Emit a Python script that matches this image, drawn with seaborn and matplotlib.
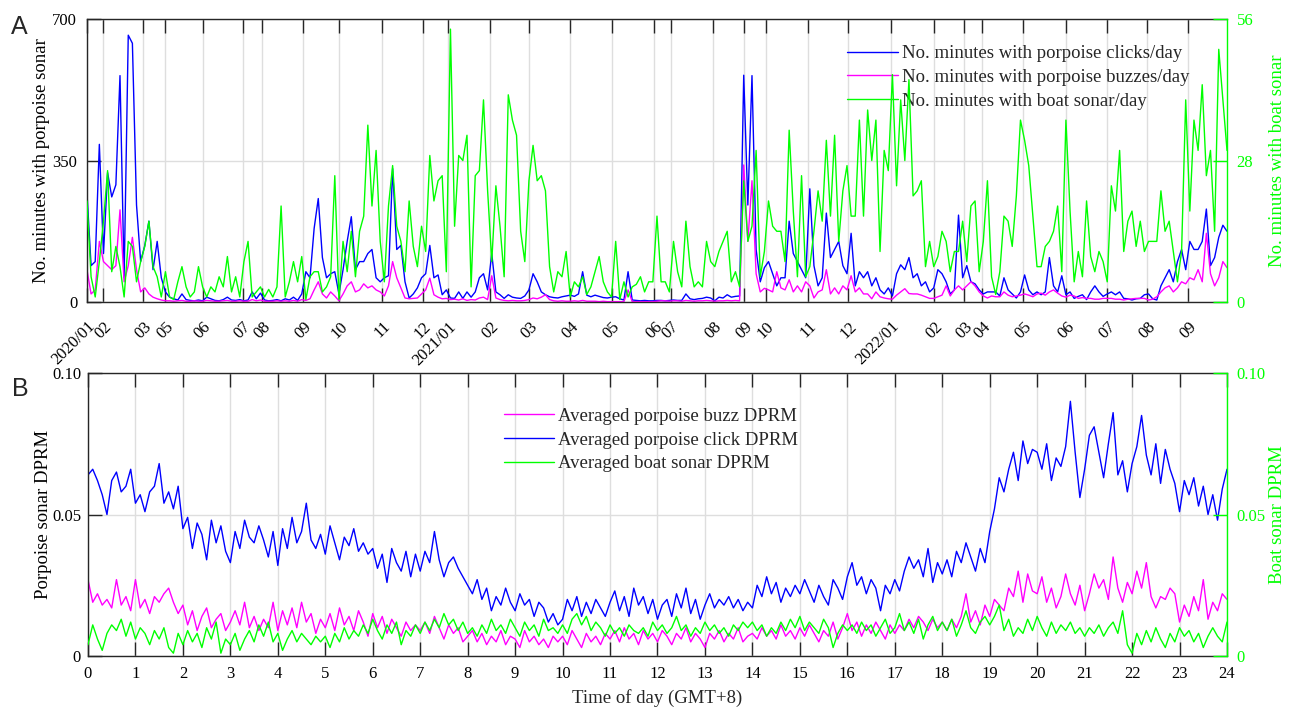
import numpy as np
import matplotlib
matplotlib.use("Agg")
import matplotlib.pyplot as plt
import matplotlib.transforms as mtransforms
from matplotlib.lines import Line2D
import seaborn as sns

# ============ Data: panel A (one sample every 3 recorded days) ============
DAY_STEP = 3
clicks_day = [
    270, 90, 100, 390, 120, 320, 260, 290, 560, 60,
    660, 640, 240, 100, 140, 200, 80, 150, 60, 25,
    12, 8, 5, 20, 6, 4, 3, 5, 3, 12,
    8, 4, 3, 6, 12, 5, 4, 6, 3, 5,
    25, 8, 22, 5, 3, 4, 6, 3, 8, 5,
    12, 4, 20, 75, 60, 182, 256, 110, 60, 70,
    75, 20, 80, 150, 211, 80, 100, 100, 120, 130,
    60, 50, 60, 65, 330, 130, 140, 50, 10, 20,
    35, 60, 70, 140, 60, 67, 18, 30, 10, 9,
    25, 9, 25, 12, 25, 60, 70, 30, 120, 25,
    18, 9, 18, 12, 10, 9, 15, 30, 70, 50,
    25, 18, 13, 11, 10, 13, 15, 17, 14, 20,
    75, 17, 13, 17, 14, 11, 10, 12, 13, 8,
    5, 75, 5, 4, 3, 4, 3, 3, 4, 4,
    3, 4, 5, 4, 4, 20, 8, 6, 8, 9,
    12, 10, 3, 12, 10, 18, 12, 14, 15, 561,
    240, 560, 130, 50, 85, 100, 70, 40, 60, 60,
    200, 120, 100, 80, 60, 280, 90, 40, 60, 220,
    110, 130, 150, 90, 70, 170, 40, 75, 60, 75,
    40, 60, 30, 20, 35, 15, 70, 92, 80, 110,
    60, 70, 40, 50, 25, 35, 80, 70, 50, 20,
    30, 215, 60, 90, 50, 45, 30, 20, 25, 25,
    25, 15, 60, 30, 20, 10, 25, 67, 30, 18,
    25, 18, 25, 110, 40, 25, 65, 18, 25, 9,
    14, 18, 6, 25, 40, 25, 14, 20, 25, 18,
    25, 9, 8, 5, 8, 9, 18, 20, 8, 5,
    40, 60, 80, 50, 100, 130, 80, 150, 130, 130,
    150, 230, 90, 110, 160, 190, 175,
]
buzzes_day = [
    80, 20, 30, 150, 100, 90, 80, 90, 228, 50,
    90, 160, 80, 25, 35, 20, 12, 8, 5, 3,
    3, 2, 3, 4, 2, 2, 3, 2, 2, 4,
    3, 2, 2, 3, 4, 2, 2, 3, 2, 2,
    6, 3, 5, 2, 2, 2, 3, 2, 3, 2,
    4, 2, 6, 4, 8, 30, 50, 20, 10, 25,
    15, 3, 20, 40, 50, 25, 30, 45, 35, 40,
    30, 25, 15, 40, 100, 60, 35, 10, 8, 9,
    10, 20, 30, 59, 18, 12, 8, 9, 6, 7,
    5, 8, 4, 6, 5, 10, 12, 6, 65, 10,
    6, 4, 3, 4, 3, 3, 4, 6, 10, 8,
    12, 18, 6, 3, 2, 3, 2, 2, 3, 2,
    4, 2, 2, 2, 1, 2, 1, 1, 1, 1,
    1, 30, 1, 1, 1, 1, 1, 1, 2, 3,
    3, 2, 3, 3, 2, 4, 3, 2, 3, 3,
    4, 3, 2, 3, 3, 4, 3, 4, 3, 339,
    150, 300, 70, 25, 34, 30, 25, 75, 35, 30,
    55, 25, 40, 25, 50, 40, 10, 25, 30, 80,
    20, 35, 20, 40, 30, 65, 25, 35, 20, 20,
    8, 25, 13, 10, 8, 7, 17, 25, 33, 21,
    20, 20, 17, 13, 9, 9, 13, 17, 40, 15,
    30, 40, 30, 40, 50, 40, 25, 15, 10, 15,
    13, 13, 25, 17, 13, 15, 17, 20, 17, 13,
    20, 22, 17, 25, 30, 22, 15, 12, 17, 15,
    9, 11, 9, 9, 7, 7, 9, 9, 9, 7,
    7, 5, 7, 8, 9, 9, 9, 5, 7, 13,
    25, 35, 40, 25, 35, 50, 45, 60, 55, 80,
    50, 170, 70, 40, 60, 100, 85,
]
boat_day = [
    20, 5, 1, 8, 16, 26, 6, 11, 7, 1,
    12, 11, 4, 8, 11, 16, 7, 5, 1, 6,
    1, 0.5, 4, 7, 3, 1, 2, 7, 3, 1,
    3, 2, 5, 3, 9, 2, 5, 1, 8, 12,
    1, 2, 3, 1, 2.5, 1, 3, 19, 1, 4,
    8, 4, 9, 0.5, 5, 6, 6, 2, 3, 5,
    25, 0.5, 12, 6, 14, 5, 14, 17, 35, 19,
    30, 12, 4, 19, 27, 15, 12, 6, 20, 11,
    7, 15, 10, 29, 20, 24, 25, 6, 54, 15,
    29, 28, 33, 3, 25, 26, 40, 22, 8, 23,
    15, 5, 41, 36, 33, 14, 8, 24, 31, 24,
    25, 22, 7, 2, 6, 5, 10, 1, 4, 3,
    5, 1.5, 3, 6, 9, 4, 2, 1, 12, 0.5,
    4, 1, 3, 3.5, 5, 2, 4, 4, 17, 4,
    4, 2, 12, 6, 3, 16, 7, 3, 4, 3,
    12, 8, 7, 10, 12, 14, 4, 6, 3, 24,
    12, 15, 30, 5, 10, 20, 15, 14, 14, 8,
    34, 18, 5, 25, 5, 7, 14, 22, 16, 32,
    17, 33, 12, 22, 27, 17, 17, 36, 17, 38,
    28, 36, 10, 30, 26, 45, 23, 40, 28, 44,
    21, 22, 24, 7, 12, 7, 9, 14, 12, 6,
    10, 10, 16, 8, 19, 20, 6, 12, 24, 5,
    1.5, 6, 17, 16, 11, 21, 36, 32, 27, 17,
    7, 7, 11, 12, 14, 19, 6, 36, 18, 4,
    10, 5, 20, 9, 6, 10, 8, 4, 23, 18,
    30, 10, 16, 18, 11, 16, 10, 12, 12, 12,
    22, 14, 16, 10, 4, 10, 40, 18, 36, 30,
    43, 25, 30, 14, 50, 40, 30,
]
# month ticks, as recorded-day index (gaps in the record squeeze the axis)
month_pos = [0, 12, 41, 57, 84, 113, 127, 157, 183, 214, 244, 262, 293, 321, 351, 381,
             412, 424, 455, 477, 493, 524, 553, 584, 615, 637, 650, 680, 711, 741, 770, 800]
month_lbl = ["2020/01", "02", "03", "05", "06", "07", "08", "09", "10", "11", "12",
             "2021/01", "02", "03", "04", "05", "06", "07", "08", "09", "10", "11", "12",
             "2022/01", "02", "03", "04", "05", "06", "07", "08", "09"]

# ============ Data: panel B (one sample every 0.1 h) ============
click_dprm = [
    0.064, 0.066, 0.062, 0.057, 0.050, 0.062, 0.065, 0.058, 0.060, 0.066,
    0.054, 0.057, 0.051, 0.058, 0.060, 0.068, 0.054, 0.058, 0.052, 0.060,
    0.045, 0.049, 0.038, 0.047, 0.043, 0.034, 0.048, 0.040, 0.046, 0.037,
    0.033, 0.044, 0.038, 0.048, 0.042, 0.040, 0.046, 0.041, 0.035, 0.044,
    0.032, 0.045, 0.038, 0.049, 0.040, 0.044, 0.054, 0.041, 0.038, 0.043,
    0.036, 0.046, 0.040, 0.034, 0.042, 0.039, 0.045, 0.037, 0.040, 0.036,
    0.038, 0.031, 0.036, 0.026, 0.038, 0.033, 0.030, 0.037, 0.028, 0.036,
    0.030, 0.037, 0.033, 0.044, 0.034, 0.028, 0.033, 0.035, 0.031, 0.028,
    0.025, 0.022, 0.027, 0.020, 0.024, 0.016, 0.021, 0.018, 0.024, 0.019,
    0.016, 0.022, 0.018, 0.020, 0.014, 0.019, 0.017, 0.012, 0.015, 0.011,
    0.013, 0.020, 0.016, 0.021, 0.014, 0.019, 0.015, 0.020, 0.017, 0.014,
    0.019, 0.023, 0.016, 0.021, 0.014, 0.024, 0.018, 0.021, 0.015, 0.020,
    0.013, 0.018, 0.020, 0.014, 0.022, 0.017, 0.024, 0.015, 0.020, 0.013,
    0.018, 0.022, 0.017, 0.020, 0.018, 0.021, 0.017, 0.020, 0.016, 0.019,
    0.017, 0.025, 0.021, 0.028, 0.022, 0.026, 0.019, 0.024, 0.021, 0.025,
    0.022, 0.027, 0.023, 0.019, 0.025, 0.021, 0.018, 0.027, 0.024, 0.020,
    0.028, 0.033, 0.025, 0.028, 0.022, 0.027, 0.024, 0.016, 0.025, 0.022,
    0.027, 0.023, 0.030, 0.035, 0.031, 0.034, 0.028, 0.038, 0.026, 0.033,
    0.029, 0.034, 0.028, 0.037, 0.033, 0.040, 0.035, 0.030, 0.038, 0.033,
    0.044, 0.052, 0.063, 0.058, 0.066, 0.072, 0.062, 0.076, 0.068, 0.073,
    0.072, 0.066, 0.075, 0.062, 0.070, 0.067, 0.074, 0.090, 0.072, 0.056,
    0.066, 0.078, 0.081, 0.072, 0.063, 0.075, 0.086, 0.064, 0.069, 0.058,
    0.068, 0.074, 0.085, 0.071, 0.064, 0.075, 0.061, 0.073, 0.066, 0.061,
    0.051, 0.062, 0.057, 0.063, 0.053, 0.060, 0.050, 0.057, 0.048, 0.059,
    0.066,
]
buzz_dprm = [
    0.027, 0.019, 0.022, 0.018, 0.020, 0.017, 0.027, 0.018, 0.021, 0.016,
    0.027, 0.017, 0.020, 0.015, 0.021, 0.019, 0.022, 0.024, 0.019, 0.015,
    0.018, 0.011, 0.016, 0.009, 0.014, 0.017, 0.010, 0.013, 0.015, 0.009,
    0.012, 0.016, 0.011, 0.019, 0.010, 0.014, 0.009, 0.013, 0.010, 0.019,
    0.009, 0.016, 0.011, 0.017, 0.010, 0.019, 0.012, 0.015, 0.008, 0.013,
    0.010, 0.015, 0.009, 0.017, 0.011, 0.014, 0.009, 0.016, 0.012, 0.007,
    0.015, 0.010, 0.014, 0.008, 0.013, 0.010, 0.007, 0.012, 0.009, 0.011,
    0.009, 0.012, 0.008, 0.014, 0.010, 0.006, 0.011, 0.008, 0.010, 0.005,
    0.007, 0.009, 0.005, 0.008, 0.004, 0.007, 0.005, 0.009, 0.004, 0.007,
    0.006, 0.003, 0.009, 0.005, 0.007, 0.004, 0.006, 0.003, 0.007, 0.005,
    0.007, 0.004, 0.009, 0.006, 0.003, 0.008, 0.005, 0.007, 0.004, 0.008,
    0.006, 0.009, 0.005, 0.010, 0.006, 0.008, 0.004, 0.009, 0.006, 0.008,
    0.005, 0.009, 0.007, 0.004, 0.008, 0.006, 0.010, 0.005, 0.008, 0.006,
    0.003, 0.008, 0.006, 0.009, 0.005, 0.008, 0.006, 0.010, 0.005, 0.007,
    0.008, 0.006, 0.010, 0.007, 0.009, 0.006, 0.011, 0.007, 0.009, 0.006,
    0.010, 0.007, 0.011, 0.008, 0.005, 0.009, 0.007, 0.012, 0.006, 0.010,
    0.015, 0.009, 0.012, 0.007, 0.011, 0.008, 0.012, 0.009, 0.006, 0.011,
    0.008, 0.011, 0.009, 0.013, 0.010, 0.014, 0.012, 0.009, 0.013, 0.010,
    0.012, 0.009, 0.013, 0.010, 0.014, 0.022, 0.012, 0.016, 0.011, 0.018,
    0.014, 0.020, 0.018, 0.016, 0.024, 0.021, 0.030, 0.019, 0.029, 0.023,
    0.022, 0.028, 0.019, 0.024, 0.017, 0.021, 0.029, 0.022, 0.018, 0.025,
    0.016, 0.022, 0.029, 0.024, 0.027, 0.020, 0.035, 0.024, 0.019, 0.026,
    0.022, 0.030, 0.024, 0.033, 0.021, 0.017, 0.021, 0.020, 0.024, 0.022,
    0.012, 0.018, 0.014, 0.021, 0.016, 0.027, 0.013, 0.019, 0.016, 0.022,
    0.020,
]
boat_dprm = [
    0.004, 0.011, 0.006, 0.002, 0.008, 0.011, 0.009, 0.013, 0.007, 0.012,
    0.006, 0.010, 0.008, 0.004, 0.009, 0.006, 0.010, 0.003, 0.001, 0.008,
    0.004, 0.009, 0.005, 0.008, 0.003, 0.010, 0.006, 0.012, 0.001, 0.006,
    0.004, 0.008, 0.002, 0.006, 0.009, 0.005, 0.011, 0.007, 0.012, 0.005,
    0.008, 0.002, 0.006, 0.009, 0.005, 0.008, 0.006, 0.004, 0.007, 0.005,
    0.007, 0.003, 0.008, 0.005, 0.010, 0.006, 0.009, 0.007, 0.011, 0.008,
    0.013, 0.009, 0.006, 0.011, 0.008, 0.012, 0.004, 0.009, 0.007, 0.011,
    0.008, 0.012, 0.009, 0.013, 0.010, 0.015, 0.011, 0.013, 0.009, 0.012,
    0.008, 0.010, 0.007, 0.011, 0.008, 0.013, 0.009, 0.011, 0.008, 0.013,
    0.010, 0.007, 0.012, 0.009, 0.011, 0.007, 0.013, 0.009, 0.010, 0.008,
    0.011, 0.008, 0.013, 0.015, 0.011, 0.014, 0.009, 0.012, 0.010, 0.007,
    0.011, 0.008, 0.010, 0.007, 0.011, 0.009, 0.008, 0.010, 0.007, 0.012,
    0.009, 0.011, 0.008, 0.010, 0.014, 0.009, 0.011, 0.007, 0.010, 0.008,
    0.012, 0.009, 0.011, 0.008, 0.010, 0.007, 0.011, 0.009, 0.012, 0.010,
    0.012, 0.009, 0.011, 0.007, 0.010, 0.008, 0.012, 0.009, 0.013, 0.010,
    0.014, 0.009, 0.012, 0.010, 0.008, 0.013, 0.010, 0.003, 0.008, 0.011,
    0.009, 0.011, 0.008, 0.012, 0.009, 0.011, 0.007, 0.010, 0.013, 0.008,
    0.010, 0.015, 0.009, 0.012, 0.008, 0.013, 0.006, 0.011, 0.014, 0.009,
    0.012, 0.009, 0.013, 0.007, 0.011, 0.016, 0.010, 0.008, 0.012, 0.014,
    0.011, 0.014, 0.018, 0.009, 0.013, 0.007, 0.010, 0.008, 0.013, 0.009,
    0.014, 0.010, 0.007, 0.012, 0.008, 0.011, 0.009, 0.012, 0.008, 0.010,
    0.007, 0.010, 0.008, 0.011, 0.007, 0.010, 0.012, 0.008, 0.016, 0.004,
    0.001, 0.008, 0.004, 0.009, 0.005, 0.010, 0.006, 0.003, 0.008, 0.005,
    0.010, 0.007, 0.009, 0.005, 0.008, 0.003, 0.007, 0.010, 0.007, 0.005,
    0.012,
]
HOUR_STEP = 0.1

# ============ Style ============
BLUE, MAGENTA, GREEN = "#0000FF", "#FF00FF", "#00FF00"
AXC = "#262626"
GRIDC = "#dedede"

sns.set_theme(style="white")
plt.rcParams["font.family"] = ["Liberation Serif", "DejaVu Serif"]
plt.rcParams["axes.linewidth"] = 1.0

TICK_FS = 12
LAB_FS = 13.5
LEG_FS = 13.5

fig = plt.figure(figsize=(12.92, 7.07), dpi=100)
ax1 = fig.add_axes([0.0673, 0.5728, 0.8824, 0.4003])
ax2 = fig.add_axes([0.0681, 0.0721, 0.8816, 0.4003])


def style_axes(ax, axr):
    for s in ("left", "top", "bottom"):
        ax.spines[s].set_color(AXC)
    ax.spines["right"].set_visible(False)
    for s in ("left", "top", "bottom"):
        axr.spines[s].set_visible(False)
    axr.spines["right"].set_color(GREEN)
    ax.tick_params(axis="both", direction="in", length=10, width=1, color=AXC,
                   labelsize=TICK_FS, labelcolor="black", top=True, bottom=True,
                   left=True, right=False, pad=7)
    axr.tick_params(axis="y", direction="in", length=10, width=1, color=GREEN,
                    labelsize=TICK_FS, labelcolor=GREEN, pad=7)
    ax.grid(True, color=GRIDC, linewidth=1)
    axr.grid(False)
    ax.set_facecolor("white")


# ---------- Panel A ----------
x_days = np.arange(len(clicks_day)) * DAY_STEP
ax1r = ax1.twinx()
sns.lineplot(x=x_days, y=clicks_day, ax=ax1, color=BLUE, linewidth=1.0, legend=False)
sns.lineplot(x=x_days, y=buzzes_day, ax=ax1, color=MAGENTA, linewidth=1.0, legend=False)
sns.lineplot(x=x_days, y=boat_day, ax=ax1r, color=GREEN, linewidth=1.0, legend=False)
ax1.set_xlim(0, x_days[-1])
ax1.set_ylim(0, 700)
ax1r.set_ylim(0, 56)
ax1.set_yticks([0, 350, 700])
ax1r.set_yticks([0, 28, 56])
ax1.set_xticks(month_pos)
ax1.set_xticklabels(month_lbl, rotation=45, ha="right", va="center",
                    rotation_mode="anchor")
style_axes(ax1, ax1r)
ax1.tick_params(axis="x", pad=16)
shift = mtransforms.ScaledTranslation(6 / 100, 0, fig.dpi_scale_trans)
for lbl in ax1.get_xticklabels():
    lbl.set_transform(lbl.get_transform() + shift)
ax1.set_ylabel("No. minutes with porpoise sonar", fontsize=LAB_FS, color="black", labelpad=2)
ax1r.set_ylabel("No. minutes with boat sonar", fontsize=LAB_FS, color=GREEN)
ax1r.yaxis.set_label_coords(1.037, 0.5)
ax1.set_xlabel("")
handles_a = [Line2D([], [], color=BLUE, lw=1),
             Line2D([], [], color=MAGENTA, lw=1),
             Line2D([], [], color=GREEN, lw=1)]
ax1.legend(handles_a, ["No. minutes with porpoise clicks/day",
                       "No. minutes with porpoise buzzes/day",
                       "No. minutes with boat sonar/day"],
           loc="upper left", bbox_to_anchor=(0.667, 0.908), frameon=False,
           fontsize=LEG_FS, handlelength=2.7, handletextpad=0.2,
           labelspacing=0.36, borderpad=0, borderaxespad=0)

# ---------- Panel B ----------
hours = np.arange(len(click_dprm)) * HOUR_STEP
ax2r = ax2.twinx()
sns.lineplot(x=hours, y=click_dprm, ax=ax2, color=BLUE, linewidth=1.0, legend=False)
sns.lineplot(x=hours, y=buzz_dprm, ax=ax2, color=MAGENTA, linewidth=1.0, legend=False)
sns.lineplot(x=hours, y=boat_dprm, ax=ax2r, color=GREEN, linewidth=1.0, legend=False)
ax2.set_xlim(0, 24)
ax2.set_ylim(0, 0.10)
ax2r.set_ylim(0, 0.10)
ax2.set_xticks(range(25))
ax2.set_yticks([0, 0.05, 0.10])
ax2.set_yticklabels(["0", "0.05", "0.10"])
ax2r.set_yticks([0, 0.05, 0.10])
ax2r.set_yticklabels(["0", "0.05", "0.10"])
style_axes(ax2, ax2r)
ax2.tick_params(axis="y", pad=5)
ax2.set_xlabel("Time of day (GMT+8)", fontsize=LAB_FS, labelpad=5)
ax2.set_ylabel("Porpoise sonar DPRM", fontsize=LAB_FS, color="black", labelpad=0)
ax2r.set_ylabel("Boat sonar DPRM", fontsize=LAB_FS, color=GREEN)
ax2r.yaxis.set_label_coords(1.037, 0.5)
handles_b = [Line2D([], [], color=MAGENTA, lw=1),
             Line2D([], [], color=BLUE, lw=1),
             Line2D([], [], color=GREEN, lw=1)]
ax2.legend(handles_b, ["Averaged porpoise buzz DPRM",
                       "Averaged porpoise click DPRM",
                       "Averaged boat sonar DPRM"],
           loc="upper left", bbox_to_anchor=(0.365, 0.878), frameon=False,
           fontsize=LEG_FS, handlelength=2.7, handletextpad=0.2,
           labelspacing=0.36, borderpad=0, borderaxespad=0)

# panel letters
fig.text(19 / 1292, 1 - 27 / 707, "A", fontsize=18, family=["Liberation Sans", "DejaVu Sans"],
         ha="center", va="center")
fig.text(20 / 1292, 1 - 389 / 707, "B", fontsize=18, family=["Liberation Sans", "DejaVu Sans"],
         ha="center", va="center")

fig.savefig("out.png", dpi=100)
